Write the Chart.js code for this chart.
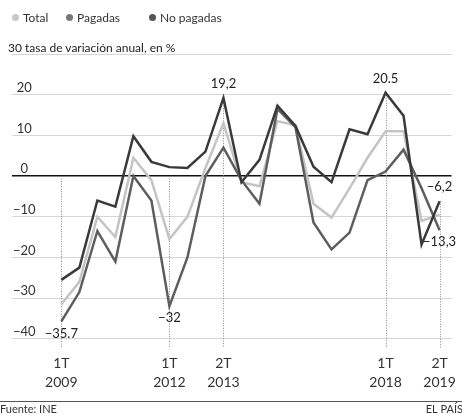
<!DOCTYPE html>
<html>
<head>
<meta charset="utf-8">
<script src="https://cdn.jsdelivr.net/npm/chart.js@4.4.1/dist/chart.umd.min.js"></script>
<style>
  html, body { margin: 0; padding: 0; background: #fff; }
  #wrap { position: relative; width: 462px; height: 414px; font-family: Lato, sans-serif; color: #333; }
  #chart { position: absolute; left: 0; top: 0; }
  .item { position: absolute; top: 10px; font-size: 12px; line-height: 16px; white-space: nowrap; }
  .dot { display: inline-block; width: 7px; height: 7px; border-radius: 50%; margin-right: 4px; vertical-align: 1px; }
  #unit { position: absolute; left: 8px; top: 40px; font-size: 12px; line-height: 16px; color: #222; white-space: nowrap; }
</style>
</head>
<body>
<div id="wrap">
  <canvas id="chart" width="462" height="414"></canvas>
  <div id="legend"></div>
  <div id="unit">30 tasa de variación anual, en %</div>
</div>

<script>
/* ── 데이터 ─────────────────────────────────────────── */
const SERIES_NAMES = ['Total', 'Pagadas', 'No pagadas'];

// 22 periodos (1T 2009 … 2T 2019), sólo algunos llevan etiqueta
const TOTAL      = [-31.5, -26, -10, -15, 4.5, -1, -15.5, -10, 2, 13, -1.5, -2.5, 13.5, 12.5, -6.8, -10.2, -3, 4.5, 11, 11, -11, -9.5];
const PAGADAS    = [-35.7, -28.5, -13.5, -21, 0, -6, -32, -20, 0, 7, -1, -6.8, 16.5, 12, -11.4, -18, -13.9, -1, 1.1, 6.5, -3, -13.3];
const NO_PAGADAS = [-25.5, -22.5, -6, -7.5, 9.8, 3.5, 2.2, 2, 6, 19.2, -1.5, 4, 17.3, 12.3, 2.3, -1.5, 11.5, 10.3, 20.5, 14.8, -16.8, -6.2];

const X_TICK_INDEX  = [0, 6, 9, 18, 21];
const X_TICK_LABELS = [['1T', '2009'], ['1T', '2012'], ['2T', '2013'], ['1T', '2018'], ['2T', '2019']];
const Y_TICKS = [-40, -30, -20, -10, 0, 10, 20, 30];

// etiquetas de valores destacados
const NOTE_SERIES = ['No pagadas', 'Pagadas', 'Pagadas', 'No pagadas', 'No pagadas', 'Pagadas'];
const NOTE_INDEX  = [9, 0, 6, 18, 21, 21];
const NOTE_TEXT   = ['19,2', '−35.7', '−32', '20.5', '−6,2', '−13,3'];

/* ── 스타일 ─────────────────────────────────────────── */
const COLORS    = { 'Total': '#c4c4c4', 'Pagadas': '#5e5e5e', 'No pagadas': '#3a3a3a' };
const DOT_COLOR = { 'Total': '#c8c8c8', 'Pagadas': '#777', 'No pagadas': '#555' };
const GRID_COLOR = '#d6d6d6';
const TEXT_COLOR = '#333';
const NOTE_SIDE  = ['above', 'below', 'below', 'above', 'above', 'below'];

const VALUES = { 'Total': TOTAL, 'Pagadas': PAGADAS, 'No pagadas': NO_PAGADAS };

/* ── 범례 (HTML) ──────────────────────────────────── */
const LEGEND_LEFT = [12, 66, 149];
SERIES_NAMES.forEach((name, k) => {
  const el = document.createElement('div');
  el.className = 'item';
  el.style.left = LEGEND_LEFT[k] + 'px';
  el.innerHTML = `<span class="dot" style="background:${DOT_COLOR[name]}"></span>${name}`;
  document.getElementById('legend').appendChild(el);
});

const minus = s => String(s).replace('-', '−');

/* 세로 점선: 라벨이 위에 있으면 점에서, 아래면 0선에서 시작 */
const dropLines = {
  id: 'dropLines',
  beforeDatasetsDraw(chart) {
    const { ctx, chartArea, scales: { x, y } } = chart;
    ctx.save();
    ctx.strokeStyle = '#8a8a8a';
    ctx.lineWidth = 1;
    ctx.setLineDash([1, 1.5]);
    X_TICK_INDEX.forEach(i => {
      const n = NOTE_INDEX.findIndex((idx, k) => idx === i && NOTE_SIDE[k] === 'above');
      const topVal = n >= 0 ? VALUES[NOTE_SERIES[n]][i] : 0;
      const px = Math.round(x.getPixelForValue(i)) + 0.5;
      ctx.beginPath();
      ctx.moveTo(px, y.getPixelForValue(topVal));
      ctx.lineTo(px, chartArea.bottom);
      ctx.stroke();
    });
    ctx.restore();
  }
};

/* 값 라벨 */
const notes = {
  id: 'notes',
  afterDatasetsDraw(chart) {
    const { ctx, scales: { x, y } } = chart;
    ctx.save();
    ctx.font = '13px Lato, sans-serif';
    ctx.fillStyle = '#222';
    ctx.textAlign = 'center';
    ctx.textBaseline = 'middle';
    NOTE_TEXT.forEach((txt, k) => {
      const i = NOTE_INDEX[k];
      const v = VALUES[NOTE_SERIES[k]][i];
      let px = x.getPixelForValue(i);
      const py = y.getPixelForValue(v) + (NOTE_SIDE[k] === 'above' ? -14 : 12);
      const w = ctx.measureText(txt).width;
      if (px + w / 2 > chart.width) px = chart.width - w / 2;
      ctx.fillText(txt, px, py);
    });
    ctx.restore();
  }
};

/* 하단 출처 */
const footer = {
  id: 'footer',
  afterDraw(chart) {
    const { ctx, width } = chart;
    ctx.save();
    ctx.strokeStyle = '#555';
    ctx.lineWidth = 1;
    ctx.beginPath();
    ctx.moveTo(0, 401.5);
    ctx.lineTo(width, 401.5);
    ctx.stroke();
    ctx.font = '11px Lato, sans-serif';
    ctx.fillStyle = TEXT_COLOR;
    ctx.textBaseline = 'top';
    ctx.textAlign = 'left';
    ctx.fillText('Fuente: INE', 0, 404);
    ctx.textAlign = 'right';
    ctx.fillText('EL PAÍS', width + 1, 404);
    ctx.restore();
  }
};

const ORDER = { 'Total': 3, 'Pagadas': 2, 'No pagadas': 1 };

new Chart(document.getElementById('chart'), {
  type: 'line',
  data: {
    datasets: SERIES_NAMES.map(name => ({
      label: name,
      data: VALUES[name].map((v, i) => ({ x: i, y: v })),
      borderColor: COLORS[name],
      borderWidth: 2.5,
      pointRadius: 0,
      tension: 0,
      fill: false,
      order: ORDER[name]
    }))
  },
  options: {
    responsive: false,
    animation: false,
    layout: { padding: { left: 10, right: 7, top: 54, bottom: 13 } },
    plugins: { legend: { display: false }, tooltip: { enabled: false } },
    scales: {
      x: {
        type: 'linear',
        min: -2.74,
        max: 21.66,
        afterBuildTicks: axis => { axis.ticks = X_TICK_INDEX.map(v => ({ value: v })); },
        afterFit: axis => { axis.height = 53; },
        grid: { display: false, drawTicks: false },
        border: { display: false },
        ticks: {
          autoSkip: false,
          maxRotation: 0,
          padding: 6,
          color: TEXT_COLOR,
          font: { family: 'Lato', size: 14, lineHeight: 1.35 },
          callback: v => X_TICK_LABELS[X_TICK_INDEX.indexOf(v)]
        }
      },
      y: {
        min: -42.25,
        max: 30,
        afterBuildTicks: axis => { axis.ticks = Y_TICKS.map(v => ({ value: v })); },
        border: { display: false },
        grid: {
          drawTicks: false,
          color: c => c.tick.value === 0 ? '#111' : GRID_COLOR,
          lineWidth: c => c.tick.value === 0 ? 1.6 : 1
        },
        ticks: {
          mirror: true,
          crossAlign: 'center',
          padding: 1,
          labelOffset: -7,
          color: TEXT_COLOR,
          font: { family: 'Lato', size: 13 },
          callback: v => v === 30 ? '' : minus(v)
        }
      }
    }
  },
  plugins: [dropLines, notes, footer]
});
</script>
</body>
</html>
